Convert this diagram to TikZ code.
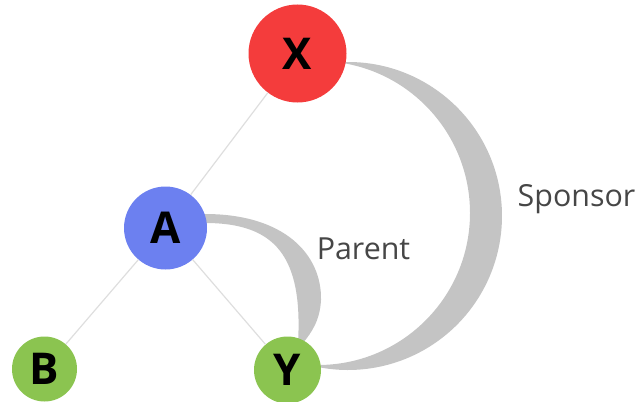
\documentclass[tikz,border=0pt]{standalone}
\usepackage{fontspec}
\setmainfont{Open Sans}
\definecolor{xred}{RGB}{244,60,60}
\definecolor{ablue}{RGB}{108,128,240}
\definecolor{lgreen}{RGB}{139,196,80}
\definecolor{cres}{RGB}{196,196,196}
\definecolor{edgec}{RGB}{222,222,222}
\definecolor{labc}{RGB}{70,70,70}
\begin{document}
\begin{tikzpicture}[x=1bp,y=1bp,
  vertex/.style={circle,inner sep=0pt,font=\fontsize{44}{44}\selectfont\bfseries,text=black},
  tree/.style={draw=edgec,line width=1.2bp},
  crescent/.style={fill=cres,draw=none},
  lab/.style={font=\fontsize{30.5}{30.5}\selectfont,text=labc}]
\useasboundingbox (0,0) rectangle (642,401);
% crescents
\fill[crescent] (348,185) ++(95:154) arc[start angle=95,end angle=-102,radius=154]
  -- (318,36) arc[start angle=-90,end angle=85,radius=152] -- cycle;
\fill[crescent] (200,187) -- (205,187) .. controls (285,187) and (322,146) .. (321,101)
  .. controls (320,81) and (312,69) .. (303,58)
  -- (298,58) .. controls (303,145) and (275,178) .. (205,178) -- (200,178) -- cycle;
% vertices
\node[vertex,fill=xred,minimum size=98bp] (X) at (297.5,347.5) {X};
\node[vertex,fill=ablue,minimum size=83bp] (A) at (165.5,173) {A};
\node[vertex,fill=lgreen,minimum size=65bp] (B) at (44.5,32) {B};
\node[vertex,fill=lgreen,minimum size=67bp] (Y) at (287.5,31) {Y};
% tree edges
\draw[tree] (X) -- (A);
\draw[tree] (A) -- (B);
\draw[tree] (A) -- (Y);
% labels
\node[lab] (parent) at (363.5,152) {Parent};
\node[lab] (sponsor) at (576.5,202) {Sponsor};
\end{tikzpicture}
\end{document}
